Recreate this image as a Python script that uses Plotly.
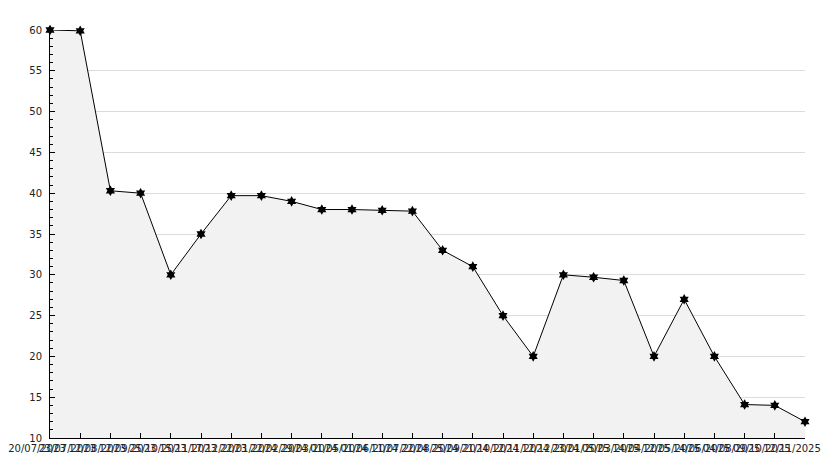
import plotly.graph_objects as go

dates = ["20/07/2023", "23/07/2023", "12/08/2023", "12/09/2023", "25/10/2023",
         "15/11/2023", "17/12/2023", "22/01/2024", "22/02/2024", "29/03/2024",
         "01/05/2024", "01/06/2024", "11/07/2024", "22/08/2024", "25/09/2024",
         "21/10/2024", "12/11/2024", "12/12/2024", "23/01/2025", "05/03/2025",
         "14/04/2025", "12/05/2025", "14/06/2025", "04/08/2025", "09/10/2025",
         "12/11/2025"]
values = [60, 59.9, 40.3, 40, 30, 35, 39.7, 39.7, 39, 38, 38, 37.9, 37.8,
          33, 31, 25, 20, 30, 29.7, 29.3, 20, 27, 20, 14.1, 14, 12]
y_ticks = [10, 15, 20, 25, 30, 35, 40, 45, 50, 55, 60]

idx = list(range(len(dates)))

fig = go.Figure()
fig.add_trace(go.Scatter(
    x=idx, y=values, mode="lines+markers",
    fill="tozeroy", fillcolor="#f2f2f2",
    line=dict(color="black", width=1),
    marker=dict(symbol="hexagram", size=8, color="black", line=dict(width=0)),
    cliponaxis=False, showlegend=False,
))

fig.update_layout(
    width=826, height=460,
    margin=dict(l=42, r=29, t=22, b=30),
    paper_bgcolor="white", plot_bgcolor="white",
    font=dict(family="DejaVu Sans", size=10, color="#222"),
    xaxis=dict(
        range=[0, 25], tickvals=idx, ticktext=dates, tickangle=0,
        automargin=False,
        showgrid=False, zeroline=False,
        showline=True, linecolor="black", linewidth=1,
        ticks="inside", ticklen=5, tickcolor="black",
        ticklabelshift=-13, ticklabelstandoff=1,
        tickfont=dict(size=10, color="#222"),
    ),
    yaxis=dict(
        range=[10, 60], tickvals=y_ticks, automargin=False,
        showgrid=True, gridcolor="#dcdcdc", gridwidth=1, zeroline=False,
        showline=True, linecolor="black", linewidth=1,
        ticks="inside", ticklen=5, tickcolor="black",
        ticklabelstandoff=5,
        minor=dict(dtick=1, ticks="inside", ticklen=3, tickcolor="black", showgrid=False),
        tickfont=dict(size=10, color="#222"),
    ),
)

fig.write_html("out.html")
